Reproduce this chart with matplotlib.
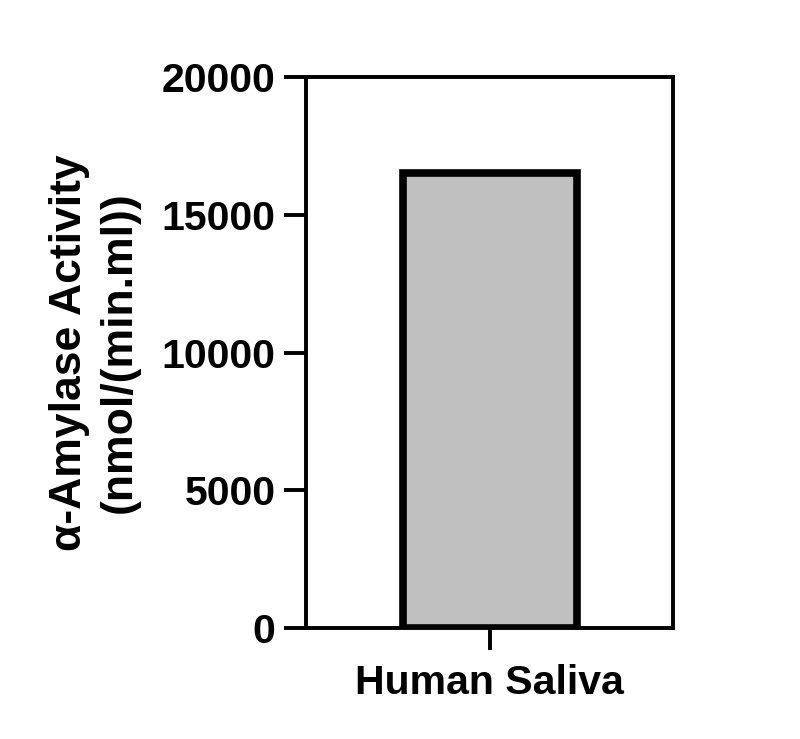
import matplotlib
matplotlib.use("Agg")
import matplotlib.pyplot as plt

categories = ["Human Saliva"]
activity = [16520]
y_ticks = [0, 5000, 10000, 15000, 20000]

plt.rcParams["font.family"] = ["Liberation Sans", "DejaVu Sans"]
plt.rcParams["font.weight"] = "bold"

fig = plt.figure(figsize=(8.0, 7.39), dpi=100)
ax = fig.add_axes([0.3825, 0.1502, 0.4588, 0.7456])

ax.bar([0], activity, width=0.948, color="#c0c0c0", edgecolor="black",
       linewidth=5.5, zorder=2)
ax.set_xlim(-1, 1)
ax.set_ylim(0, 20000)
ax.set_xticks([0])
ax.set_xticklabels(categories, fontsize=29.5, fontweight="bold")
ax.set_yticks(y_ticks)
ax.set_yticklabels([str(v) for v in y_ticks], fontsize=29.5, fontweight="bold")

for s in ax.spines.values():
    s.set_linewidth(2.8)
ax.tick_params(axis="both", length=16, width=2.8, pad=6)
ax.tick_params(axis="x", pad=10)

ax.set_ylabel("α-Amylase Activity\n(nmol/(min.ml))", fontsize=32,
              fontweight="bold", labelpad=16, linespacing=1.25)

fig.savefig("out.png", dpi=100)
